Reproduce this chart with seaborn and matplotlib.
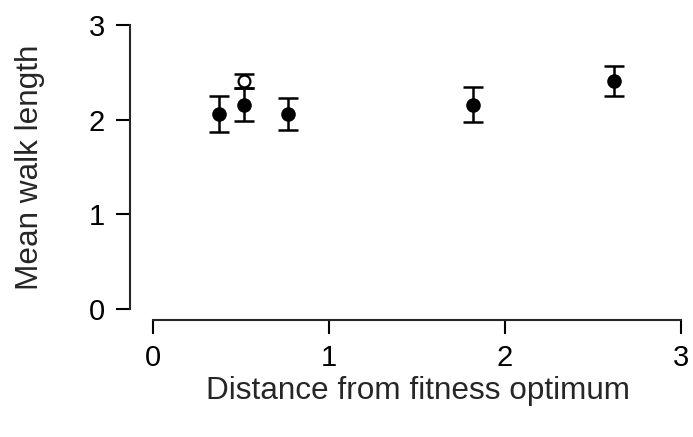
import numpy as np
import pandas as pd
import matplotlib
matplotlib.use("Agg")
import matplotlib.pyplot as plt
import seaborn as sns

# filled points
distance = [0.375, 0.517, 0.765, 1.82, 2.62]
walk_len = [2.06, 2.16, 2.06, 2.16, 2.41]
walk_err = [0.19, 0.17, 0.17, 0.18, 0.16]

# open point
open_distance = [0.517]
open_walk_len = [2.41]
open_walk_err = [0.075]

df = pd.DataFrame({"distance": distance, "walk": walk_len, "err": walk_err})

sns.set_style("ticks")
plt.rcParams["font.family"] = ["Liberation Sans", "DejaVu Sans"]

fig = plt.figure(figsize=(6.93, 4.37), dpi=100)
ax = fig.add_axes([153 / 693, 1 - 309 / 437, 528 / 693, 284 / 437])

ax.errorbar(open_distance, open_walk_len, yerr=open_walk_err, fmt="none",
            ecolor="black", elinewidth=1.8, capsize=7.5, capthick=1.8, zorder=2)
ax.errorbar(df["distance"], df["walk"], yerr=df["err"], fmt="none",
            ecolor="black", elinewidth=1.8, capsize=7.5, capthick=1.8, zorder=2)
sns.scatterplot(data=df, x="distance", y="walk", ax=ax, color="black",
                s=110, edgecolor="black", linewidth=0, zorder=3)
ax.plot(open_distance, open_walk_len, "o", mfc="white", mec="black",
        ms=8.5, mew=1.6, zorder=3)

ax.set_xlim(0, 3)
ax.set_ylim(0, 3)
ax.set_xticks([0, 1, 2, 3])
ax.set_yticks([0, 1, 2, 3])

for side in ["top", "right"]:
    ax.spines[side].set_visible(False)
# offsets in points (23 px and 11 px at 100 dpi)
ax.spines["left"].set_position(("outward", 16.5))
ax.spines["bottom"].set_position(("outward", 8))
ax.spines["left"].set_linewidth(1.5)
ax.spines["bottom"].set_linewidth(1.5)

ax.tick_params(axis="both", length=10, width=1.5, color="black",
               labelsize=21, labelcolor="black")
ax.tick_params(axis="y", pad=8)
ax.tick_params(axis="x", pad=7)

ax.set_xlabel("Distance from fitness optimum", fontsize=22.7)
ax.set_ylabel("Mean walk length", fontsize=22.7)
ax.xaxis.set_label_coords(0.502, -0.235)
ax.yaxis.set_label_coords(-0.205, 0.5)

fig.savefig("out.png", dpi=100)
